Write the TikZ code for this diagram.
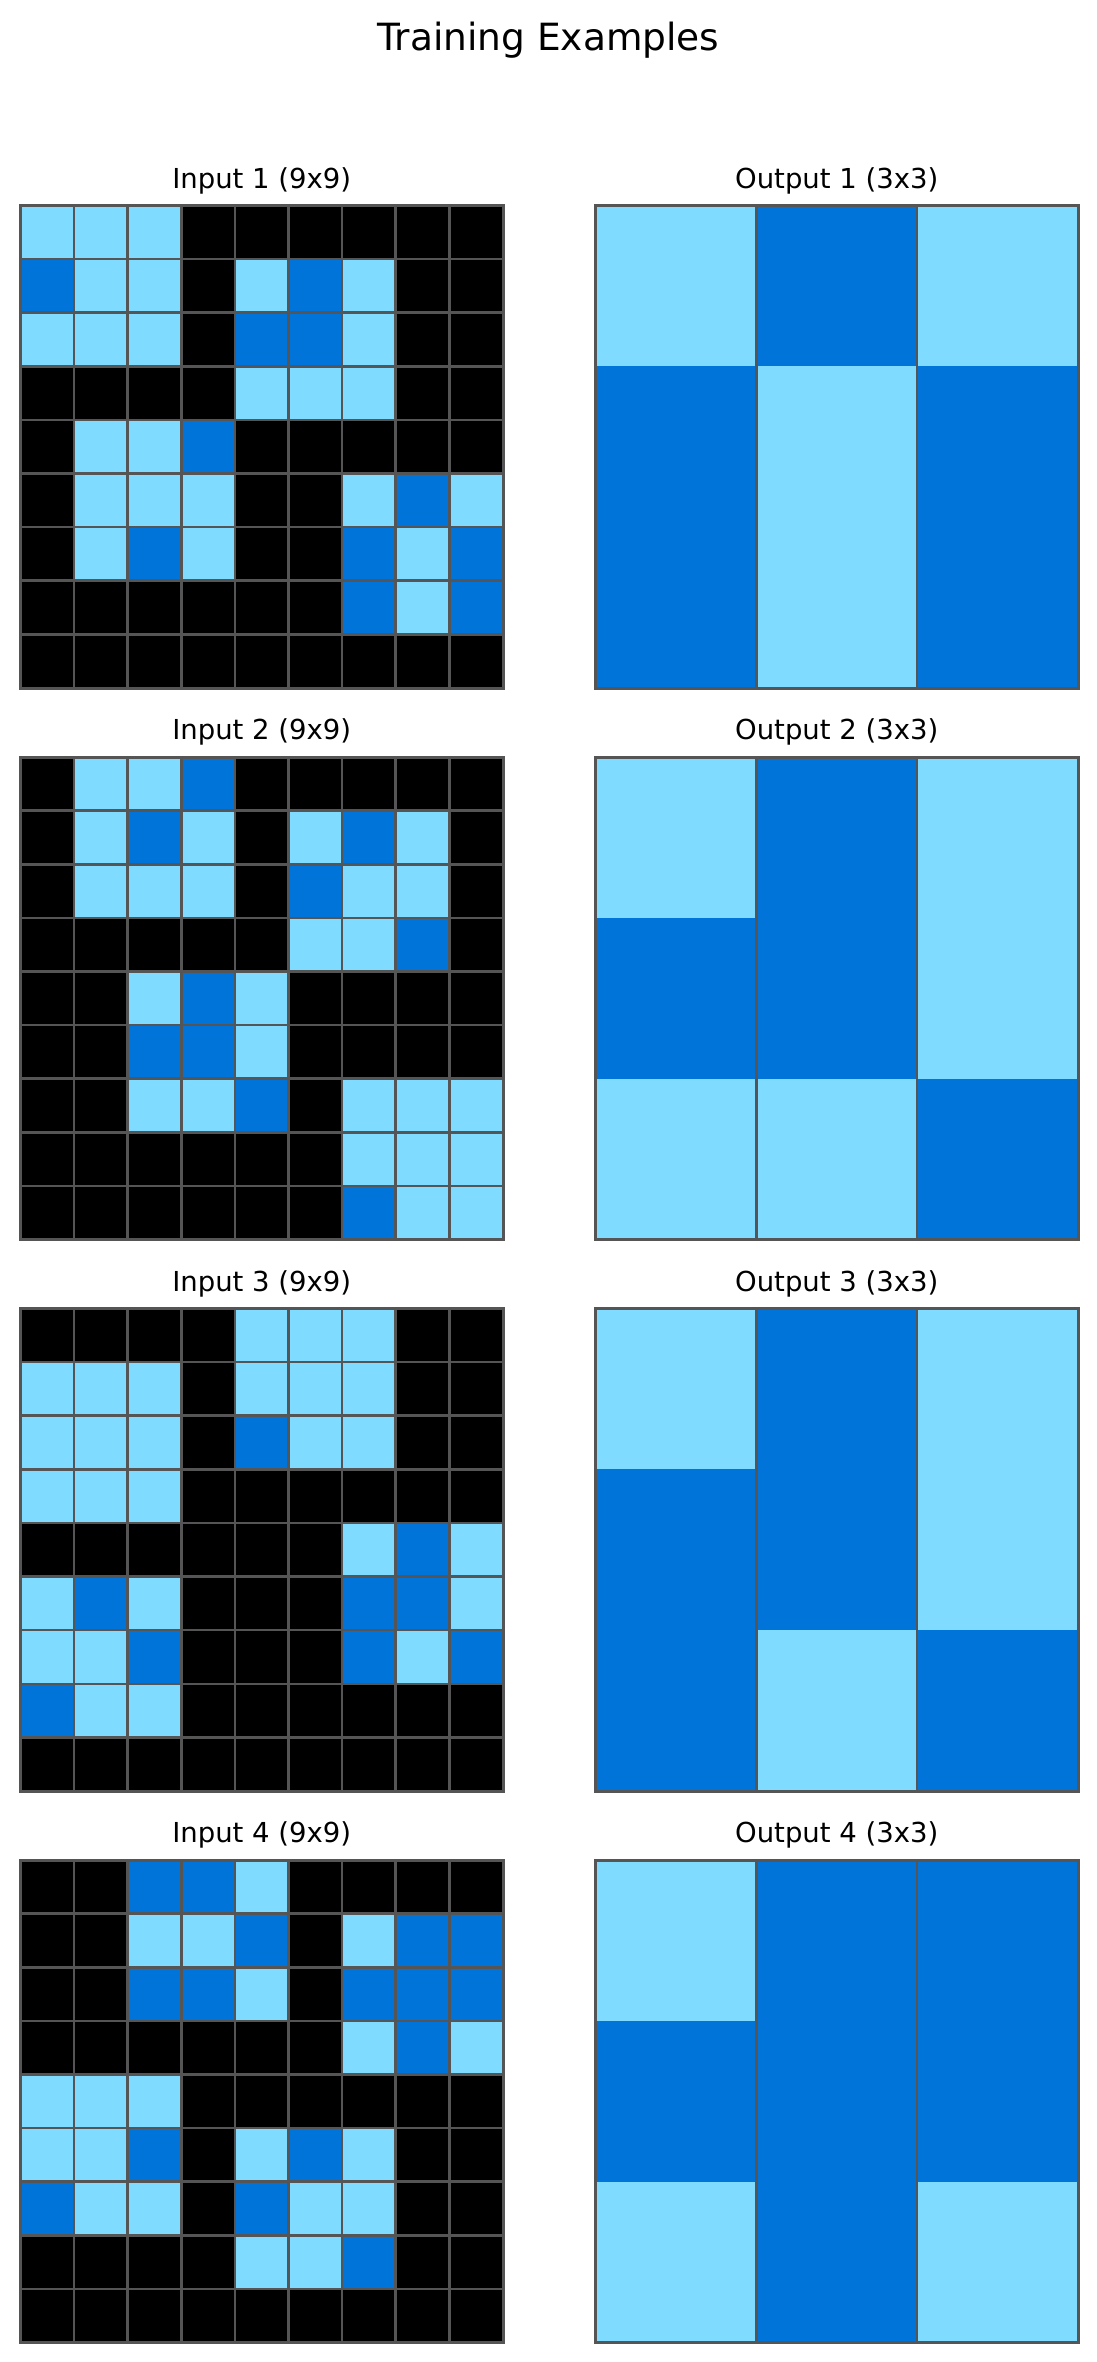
\documentclass[tikz,border=0pt]{standalone}
\usepackage{fontspec}
\setmainfont{DejaVu Sans}
\definecolor{col0}{HTML}{000000}
\definecolor{col1}{HTML}{7FDBFF}
\definecolor{col2}{HTML}{0074D9}
\definecolor{gridgray}{HTML}{555555}
\newcommand\arccells[4]{%
  \foreach \rowdata [count=\r from 0] in {#4} {
    \foreach \v [count=\c from 0] in \rowdata {
      \fill[col\v] ({#1+\c*#3},{#2+\r*#3}) rectangle ++(#3,#3);
    }
  }%
}
\newcommand\arcinlines[3]{% x0, y0, n
  \pgfmathsetmacro\arcs{482.5/#3}
  \foreach \i in {1,...,\numexpr#3-1\relax} {
    \draw[innerline] ({#1+\i*\arcs},#2) -- ++(0,482.5);
    \draw[innerline] (#1,{#2+\i*\arcs}) -- ++(482.5,0);
  }
  \draw[outerline] (#1,#2) rectangle ++(482.5,482.5);%
}
\newcommand\arcoutlines[2]{% x0, y0, vertical only
  \foreach \i in {1,2} {
    \draw[innerline] ({#1+\i*160.833},#2) -- ++(0,482.5);
  }
  \draw[outerline] (#1,#2) rectangle ++(482.5,482.5);%
}
\begin{document}
\begin{tikzpicture}[x=1pt,y=-1pt,
  innerline/.style={draw=gridgray,line width=2.6pt},
  outerline/.style={draw=gridgray,line width=3pt},
  subtitle/.style={anchor=base,inner sep=0pt,font=\fontsize{27.5}{33}\selectfont},
  maintitle/.style={anchor=base,inner sep=0pt,font=\fontsize{37.5}{45}\selectfont}]
\useasboundingbox (0,0) rectangle (1097,2362);
\fill[white] (0,0) rectangle (1097,2362);
\node[maintitle] (title) at (548.3,50.7) {Training Examples};

% ---------- Example 1 ----------
\node[subtitle] (in1) at (261.75,188) {Input 1 (9x9)};
\node[subtitle] (out1) at (836.75,188) {Output 1 (3x3)};
\arccells{20.5}{205.5}{53.6111}{{1,1,1,0,0,0,0,0,0},{2,1,1,0,1,2,1,0,0},{1,1,1,0,2,2,1,0,0},{0,0,0,0,1,1,1,0,0},{0,1,1,2,0,0,0,0,0},{0,1,1,1,0,0,1,2,1},{0,1,2,1,0,0,2,1,2},{0,0,0,0,0,0,2,1,2},{0,0,0,0,0,0,0,0,0}}
\arcinlines{20.5}{205.5}{9}
\arccells{595.5}{205.5}{160.8333}{{1,2,1},{2,1,2},{2,1,2}}
\arcoutlines{595.5}{205.5}

% ---------- Example 2 ----------
\node[subtitle] (in2) at (261.75,739.5) {Input 2 (9x9)};
\node[subtitle] (out2) at (836.75,739.5) {Output 2 (3x3)};
\arccells{20.5}{757}{53.6111}{{0,1,1,2,0,0,0,0,0},{0,1,2,1,0,1,2,1,0},{0,1,1,1,0,2,1,1,0},{0,0,0,0,0,1,1,2,0},{0,0,1,2,1,0,0,0,0},{0,0,2,2,1,0,0,0,0},{0,0,1,1,2,0,1,1,1},{0,0,0,0,0,0,1,1,1},{0,0,0,0,0,0,2,1,1}}
\arcinlines{20.5}{757}{9}
\arccells{595.5}{757}{160.8333}{{1,2,1},{2,2,1},{1,1,2}}
\arcoutlines{595.5}{757}

% ---------- Example 3 ----------
\node[subtitle] (in3) at (261.75,1291) {Input 3 (9x9)};
\node[subtitle] (out3) at (836.75,1291) {Output 3 (3x3)};
\arccells{20.5}{1308.5}{53.6111}{{0,0,0,0,1,1,1,0,0},{1,1,1,0,1,1,1,0,0},{1,1,1,0,2,1,1,0,0},{1,1,1,0,0,0,0,0,0},{0,0,0,0,0,0,1,2,1},{1,2,1,0,0,0,2,2,1},{1,1,2,0,0,0,2,1,2},{2,1,1,0,0,0,0,0,0},{0,0,0,0,0,0,0,0,0}}
\arcinlines{20.5}{1308.5}{9}
\arccells{595.5}{1308.5}{160.8333}{{1,2,1},{2,2,1},{2,1,2}}
\arcoutlines{595.5}{1308.5}

% ---------- Example 4 ----------
\node[subtitle] (in4) at (261.75,1842.5) {Input 4 (9x9)};
\node[subtitle] (out4) at (836.75,1842.5) {Output 4 (3x3)};
\arccells{20.5}{1860}{53.6111}{{0,0,2,2,1,0,0,0,0},{0,0,1,1,2,0,1,2,2},{0,0,2,2,1,0,2,2,2},{0,0,0,0,0,0,1,2,1},{1,1,1,0,0,0,0,0,0},{1,1,2,0,1,2,1,0,0},{2,1,1,0,2,1,1,0,0},{0,0,0,0,1,1,2,0,0},{0,0,0,0,0,0,0,0,0}}
\arcinlines{20.5}{1860}{9}
\arccells{595.5}{1860}{160.8333}{{1,2,2},{2,2,2},{1,2,1}}
\arcoutlines{595.5}{1860}
\end{tikzpicture}
\end{document}
